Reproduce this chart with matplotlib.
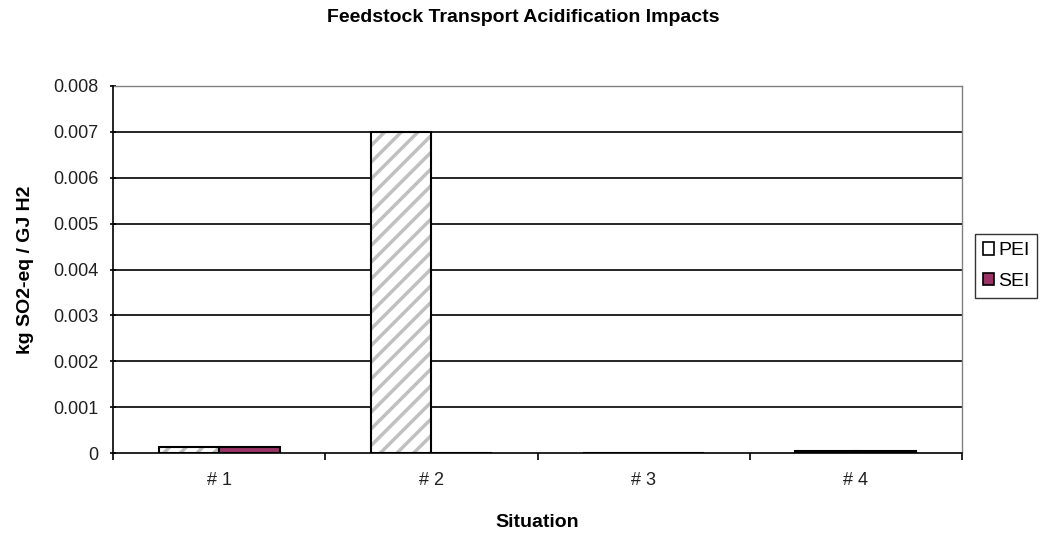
import matplotlib.pyplot as plt
import numpy as np

plt.rcParams['font.family'] = ['Liberation Sans', 'DejaVu Sans']
plt.rcParams['hatch.linewidth'] = 2.5

situations = ['# 1', '# 2', '# 3', '# 4']
pei = [0.00013, 0.007, 0.0, 0.00004]
sei = [0.00013, 0.0, 0.0, 0.00004]
yticks = [0, 0.001, 0.002, 0.003, 0.004, 0.005, 0.006, 0.007, 0.008]
ylabels = ['0', '0.001', '0.002', '0.003', '0.004', '0.005', '0.006', '0.007', '0.008']

fig = plt.figure(figsize=(10.47, 5.34), dpi=100)
ax = fig.add_axes([113/1047, 1 - 453/534, (962-113)/1047, (453-86)/534])

x = np.arange(len(situations))
w = 0.285
# hatch drawn in grey, outline drawn separately in black
ax.bar(x - w/2, pei, w, color='white', edgecolor='#c0c0c0', hatch='//', linewidth=0, zorder=3)
ax.bar(x - w/2, pei, w, fill=False, edgecolor='black', linewidth=1.5, zorder=4)
ax.bar(x + w/2, sei, w, color='#993366', edgecolor='black', linewidth=1.5, zorder=4)

ax.set_xlim(-0.5, 3.5)
ax.set_ylim(0, 0.008)
ax.set_yticks(yticks)
ax.set_yticklabels(ylabels, fontsize=13, color='#202020')
for y in yticks[1:]:
    ax.axhline(y, color='black', linewidth=1.2, zorder=1)

ax.set_xticks(x)
ax.set_xticklabels(situations, fontsize=13, color='#202020')
ax.tick_params(axis='x', length=0, pad=14)
ax.set_xticks(np.arange(-0.5, 4.0, 1.0), minor=True)
ax.tick_params(axis='x', which='minor', length=5, width=1.2, color='black')
ax.tick_params(axis='y', length=5, width=1.2, direction='inout', pad=8)

for s in ['top', 'right']:
    ax.spines[s].set_color('#808080')
    ax.spines[s].set_linewidth(1.0)
for s in ['left', 'bottom']:
    ax.spines[s].set_color('black')
    ax.spines[s].set_linewidth(1.2)
    ax.spines[s].set_zorder(5)

ax.set_xlabel('Situation', fontsize=14, fontweight='bold', labelpad=18)
ax.set_ylabel('kg SO2-eq / GJ H2', fontsize=14, fontweight='bold', labelpad=14)
fig.text(0.5, 1 - 18/534, 'Feedstock Transport Acidification Impacts', fontsize=14,
         fontweight='bold', ha='center', va='center')

h1 = plt.Rectangle((0, 0), 1, 1, facecolor='white', edgecolor='black', linewidth=1.2)
h2 = plt.Rectangle((0, 0), 1, 1, facecolor='#993366', edgecolor='black', linewidth=1.2)
leg = fig.legend([h1, h2], ['PEI', 'SEI'], loc='center left',
                 bbox_to_anchor=(975/1047, 1 - 266/534), fontsize=14,
                 frameon=True, fancybox=False, edgecolor='black', handlelength=0.6,
                 handleheight=0.6, handletextpad=0.2, borderpad=0.4, labelspacing=0.7,
                 borderaxespad=0)
leg.get_frame().set_linewidth(1.0)

fig.savefig('out.png', dpi=100)
